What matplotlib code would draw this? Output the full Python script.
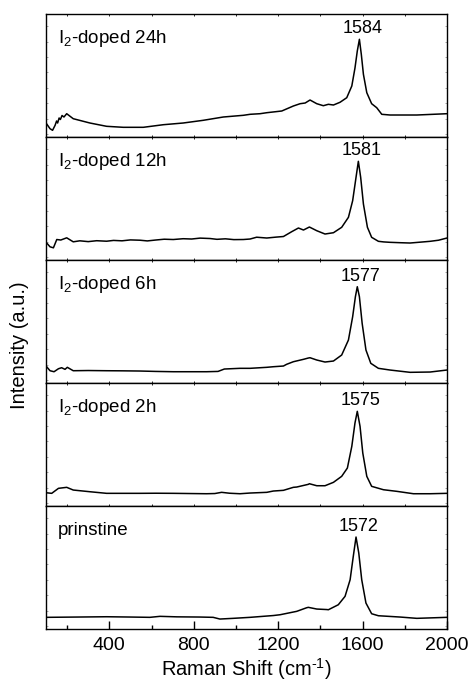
import numpy as np
import matplotlib
matplotlib.use('Agg')
import matplotlib.pyplot as plt
from matplotlib.ticker import MultipleLocator

plt.rcParams['font.family'] = ['Liberation Sans', 'DejaVu Sans']
plt.rcParams['mathtext.fontset'] = 'custom'
plt.rcParams['mathtext.rm'] = 'Liberation Sans'
plt.rcParams['mathtext.it'] = 'Liberation Sans:italic'

# spectra (intensity in arbitrary units)
wn_24h = [100, 119, 131, 143, 150, 155, 162, 168, 176, 185, 198, 229, 308, 387, 466, 561, 656, 750,
          845, 940, 1035, 1067, 1114, 1146, 1217, 1272, 1304, 1328, 1351, 1383, 1414, 1438, 1462,
          1493, 1525, 1549, 1564, 1575, 1585, 1594, 1604, 1620, 1643, 1667, 1691, 1730, 1857, 2000]
int_24h = [14, 8.3, 6.7, 11.7, 16, 14, 19, 17.5, 21.5, 20, 23.3, 18.3, 14, 10.7, 9.7, 9.7, 12.3, 14,
           16.7, 20, 21.7, 22.7, 23.3, 24.3, 26, 31, 33.3, 34, 37, 33.3, 31.3, 32.7, 32,
           34.7, 39.3, 51, 69, 86, 97.7, 82.7, 62.7, 44.3, 33.3, 29.3, 22.7, 22, 22, 23.3]

wn_12h = [100, 119, 135, 151, 170, 198, 229, 260, 300, 340, 387, 420, 460, 500, 545, 580, 620, 660,
          703, 750, 790, 830, 877, 910, 950, 990, 1035, 1067, 1098, 1146, 1190, 1225, 1264, 1296,
          1320, 1348, 1383, 1422, 1462, 1501, 1533, 1553, 1569, 1580, 1591, 1604, 1623, 1643,
          1675, 1700, 1730, 1780, 1825, 1870, 1920, 1960, 2000]
int_12h = [17.8, 13.2, 12.2, 20.5, 20, 22.2, 18.2, 19.2, 18.4, 19.3, 18.8, 19.6, 19.2, 20.1, 19.8,
           19.1, 20, 20.8, 20.5, 21.3, 21, 21.9, 21.5, 20.7, 21.2, 20.4, 20.5, 21, 22.8, 22, 22.9,
           23.5, 28.3, 32, 30, 33, 29.3, 26, 27.3, 32.7, 42.7, 59.3, 82.7, 98.7, 82.7, 56, 32.7,
           22.7, 18.7, 18.1, 17.7, 17.3, 17, 17.8, 18.7, 19.8, 22]

wn_6h = [100, 119, 138, 159, 174, 190, 201, 229, 300, 387, 460, 545, 620, 703, 780, 861, 915, 945,
         1019, 1067, 1146, 1177, 1225, 1240, 1272, 1320, 1343, 1351, 1383, 1422, 1462, 1501, 1533,
         1553, 1566, 1575, 1585, 1598, 1616, 1639, 1675, 1730, 1825, 1920, 2000]
int_6h = [17, 12.3, 11.3, 14.3, 15.3, 13.7, 15.7, 12.3, 12.5, 12.3, 12.2, 12, 11.6, 11.3, 11.3, 11.3,
          11.6, 14, 14.7, 14.7, 15.7, 16.3, 17, 18.7, 21.3, 23.7, 25, 25.3, 23, 21, 22, 28, 43,
          66.3, 86.3, 96.3, 86.3, 59.7, 33, 19.7, 14.7, 13, 10.7, 11, 13]

wn_2h = [100, 127, 159, 198, 229, 308, 387, 460, 545, 620, 703, 780, 861, 900, 932, 970, 1019, 1067,
         1146, 1177, 1225, 1272, 1288, 1343, 1348, 1383, 1422, 1462, 1501, 1528, 1549, 1564, 1575,
         1588, 1601, 1620, 1643, 1699, 1762, 1841, 1920, 2000]
int_2h = [13.3, 12.7, 17.7, 18.7, 16, 14.3, 12.7, 12.7, 12.7, 12.8, 12.7, 12.5, 12.3, 12.5, 13.7,
          12.8, 12.3, 13, 13.7, 15, 15.7, 18.7, 19, 21.7, 22.3, 20.3, 20.3, 23.7, 29.7, 38, 59.7,
          83, 94.7, 79.7, 53, 29.7, 19.7, 16.3, 14.7, 12.3, 12.3, 12.7]

wn_pr = [100, 250, 387, 500, 592, 640, 720, 829, 892, 924, 987, 1067, 1177, 1209, 1288, 1335, 1343,
         1383, 1430, 1438, 1485, 1517, 1541, 1556, 1569, 1582, 1596, 1616, 1643, 1675, 1778, 1857, 2000]
int_pr = [11.7, 12, 12.3, 12, 11.7, 12.7, 12.2, 12, 11.7, 10, 10.7, 11.7, 13.5, 14.3, 17.7, 21.3,
          21.7, 20, 19.5, 19.3, 24.3, 32.7, 49.3, 72.7, 92, 76, 49.3, 26, 15.3, 13.3, 12, 10.7, 11.7]

labels = [r'I$_2$-doped 24h', r'I$_2$-doped 12h', r'I$_2$-doped 6h', r'I$_2$-doped 2h', 'prinstine']
peaks = ['1584', '1581', '1577', '1575', '1572']
spectra = [(wn_24h, int_24h), (wn_12h, int_12h), (wn_6h, int_6h), (wn_2h, int_2h), (wn_pr, int_pr)]

fig, axes = plt.subplots(5, 1, sharex=True, figsize=(4.72, 6.83), dpi=100)
fig.subplots_adjust(left=0.0975, right=0.947, bottom=0.079, top=0.9795, hspace=0)

for i, ax in enumerate(axes):
    x, y = spectra[i]
    ax.plot(x, y, color='black', lw=1.1)
    ax.set_xlim(100, 2000)
    ax.set_ylim(0, 123)
    ax.set_yticks(np.arange(3, 123, 15.4))
    ax.tick_params(axis='y', which='both', direction='in', left=True, right=True,
                   labelleft=False, length=1.5, width=0.5, color='0.5')
    ax.xaxis.set_major_locator(MultipleLocator(400))
    ax.xaxis.set_minor_locator(MultipleLocator(200))
    for s in ax.spines.values():
        s.set_linewidth(1.0)
    ax.text(0.03, 0.765, labels[i], transform=ax.transAxes, fontsize=13.5, va='baseline')
    k = int(np.argmax(y))
    ax.annotate(peaks[i], (x[k], y[k]), xytext=(2, 1.5), textcoords='offset points',
                ha='center', va='bottom', fontsize=13)
    if i < 4:
        ax.tick_params(axis='x', which='both', direction='in', top=True, bottom=True,
                       labelbottom=False, length=1.5, width=0.6)
    else:
        ax.tick_params(axis='x', which='major', direction='in', top=False, bottom=True,
                       length=6, width=1.0, labelsize=14, pad=6)
        ax.tick_params(axis='x', which='minor', direction='in', top=False, bottom=True,
                       length=3, width=1.0)

axes[-1].set_xlabel(r'Raman Shift (cm$^{\text{-1}}$)', fontsize=14.5, labelpad=1)
fig.text(0.042, 0.495, 'Intensity (a.u.)', rotation=90, ha='center', va='center', fontsize=14.5)

fig.savefig('out.png', dpi=100)
